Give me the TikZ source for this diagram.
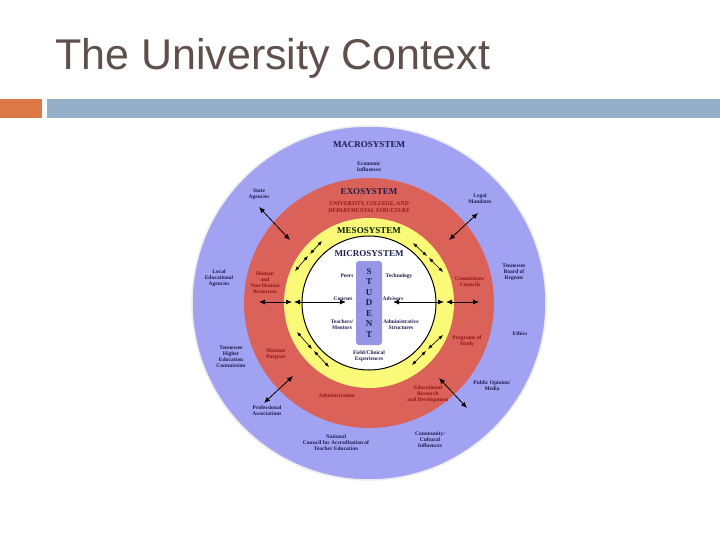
\documentclass[tikz,border=0pt]{standalone}
\usepackage{fontspec}
\setmainfont{Liberation Serif}
\newfontfamily\titlefont{Liberation Sans}
\usetikzlibrary{arrows.meta}
\definecolor{macro}{RGB}{162,162,242}
\definecolor{exo}{RGB}{219,98,88}
\definecolor{meso}{RGB}{250,250,120}
\definecolor{stud}{RGB}{150,150,230}
\definecolor{navy}{RGB}{30,30,80}
\definecolor{dred}{RGB}{150,20,20}
\definecolor{titlec}{RGB}{95,80,75}
\definecolor{barblue}{RGB}{150,175,200}
\definecolor{barorange}{RGB}{220,120,70}
\tikzset{
 lbl/.style={font=\bfseries\fontsize{5.5}{6}\selectfont, text=navy, align=center, inner sep=0pt},
 rlbl/.style={lbl, text=dred},
 hdr/.style={font=\bfseries\fontsize{9}{10}\selectfont, text=navy, inner sep=0pt},
 da/.style={{Latex[length=6pt,width=5pt]}-{Latex[length=6pt,width=5pt]}, thick, black},
 sa/.style={{Latex[length=4.5pt,width=3.5pt]}-{Latex[length=4.5pt,width=3.5pt]}, semithick, black}
}
\begin{document}
\begin{tikzpicture}[x=1pt,y=-1pt]
\useasboundingbox (0,0) rectangle (720,540);
\fill[white] (0,0) rectangle (720,540);
\node[anchor=west, font=\titlefont\fontsize{43}{48}\selectfont, text=titlec, inner sep=0pt] (title) at (55,58) {The University Context};
\fill[barorange] (0,99) rectangle (42,118);
\fill[barblue] (47,99) rectangle (720,118);
% circles
\node[circle, fill=macro, draw=white!85!gray, line width=1.5pt, minimum size=354pt, inner sep=0pt] (macro) at (369,303) {};
\node[circle, fill=exo, minimum size=250pt, inner sep=0pt] (exo) at (369,303) {};
\node[circle, fill=meso, minimum size=170pt, inner sep=0pt] (meso) at (369,303) {};
\node[circle, fill=white, draw=black, line width=1pt, minimum size=134pt, inner sep=0pt] (micro) at (369,303) {};
\node[rounded corners=3pt, fill=stud, minimum width=26pt, minimum height=84pt] (stud) at (369,303) {};
\node[font=\bfseries\fontsize{9}{10.5}\selectfont, text=navy, align=center] (studt) at (369,303) {S\\T\\U\\D\\E\\N\\T};
% headers
\node[hdr] (mac) at (369,145) {MACROSYSTEM};
\node[hdr] (exh) at (369,192) {EXOSYSTEM};
\node[lbl, text=dred, font=\bfseries\itshape\fontsize{5.8}{7.5}\selectfont] (exs) at (369,207) {UNIVERSITY, COLLEGE, AND\\DEPARTMENTAL STRUCTURE};
\node[hdr, text=black!70!green!40!black] (mes) at (369,231) {MESOSYSTEM};
\node[hdr] (mic) at (369,254) {MICROSYSTEM};
% micro labels
\node[lbl] (peers) at (347,276) {Peers};
\node[lbl] (tech) at (399,276) {Technology};
\node[lbl] (courses) at (343,299) {Courses};
\node[lbl] (adv) at (393,299) {Advisors};
\node[lbl] (teach) at (342,325) {Teachers/\\Mentors};
\node[lbl] (adm) at (401,325) {Administrative\\Structures};
\node[lbl] (field) at (369,356) {Field/Clinical\\Experiences};
% exo labels
\node[rlbl] (hum) at (265,283) {Human\\and\\Non-Human\\Resources};
\node[rlbl] (comm) at (470,282) {Committees/\\Councils};
\node[rlbl] (prog) at (467,341) {Programs of\\Study};
\node[rlbl] (miss) at (276,354) {Mission/\\Purpose};
\node[rlbl] (admin) at (337,396) {Administration};
\node[rlbl] (edr) at (428,394) {Educational\\Research\\and Development};
% macro labels
\node[lbl] (eco) at (369,167) {Economic\\Influences};
\node[lbl] (state) at (259,194) {State\\Agencies};
\node[lbl] (legal) at (480,199) {Legal\\Mandates};
\node[lbl] (lea) at (219,278) {Local\\Educational\\Agencies};
\node[lbl] (tbr) at (514,272) {Tennessee\\Board of\\Regents};
\node[lbl] (eth) at (520,334) {Ethics};
\node[lbl] (thec) at (231,357) {Tennessee\\Higher\\Education\\Commission};
\node[lbl] (pub) at (492,386) {Public Opinion/\\Media};
\node[lbl] (prof) at (267,411) {Professional\\Associations};
\node[lbl] (ncate) at (336,443) {National\\Council for Accreditation of\\Teacher Education};
\node[lbl] (cci) at (430,440) {Community/\\Cultural\\Influences};
% arrow endpoints
\coordinate (a1) at (259,207); \coordinate (a2) at (290,240);
\coordinate (b1) at (478,213); \coordinate (b2) at (449,240);
\coordinate (c1) at (264,403); \coordinate (c2) at (293,376);
\coordinate (d1) at (439,378); \coordinate (d2) at (467,408);
\draw[da] (a1) -- (a2);
\draw[da] (b1) -- (b2);
\draw[da] (c1) -- (c2);
\draw[da] (d1) -- (d2);
% horizontal
\coordinate (h1) at (259,302); \coordinate (h2) at (292,302); \coordinate (h3) at (294,302); \coordinate (h4) at (346,302);
\coordinate (h5) at (393,302); \coordinate (h6) at (444,302); \coordinate (h7) at (446,302); \coordinate (h8) at (479,302);
\draw[da] (h1) -- (h2); \draw[da] (h3) -- (h4);
\draw[da] (h5) -- (h6); \draw[da] (h7) -- (h8);
% ring arrows
\coordinate (p1) at (295,271); \coordinate (p2) at (308,256); \coordinate (p3) at (310,254); \coordinate (p4) at (322,241);
\coordinate (q1) at (413,243); \coordinate (q2) at (427,256); \coordinate (q3) at (429,258); \coordinate (q4) at (443,272);
\coordinate (r1) at (297,332); \coordinate (r2) at (312,349); \coordinate (r3) at (314,351); \coordinate (r4) at (329,367);
\coordinate (s1) at (412,365); \coordinate (s2) at (426,351); \coordinate (s3) at (428,349); \coordinate (s4) at (443,335);
\draw[sa] (p1) -- (p2); \draw[sa] (p3) -- (p4);
\draw[sa] (q1) -- (q2); \draw[sa] (q3) -- (q4);
\draw[sa] (r1) -- (r2); \draw[sa] (r3) -- (r4);
\draw[sa] (s1) -- (s2); \draw[sa] (s3) -- (s4);
\end{tikzpicture}
\end{document}
